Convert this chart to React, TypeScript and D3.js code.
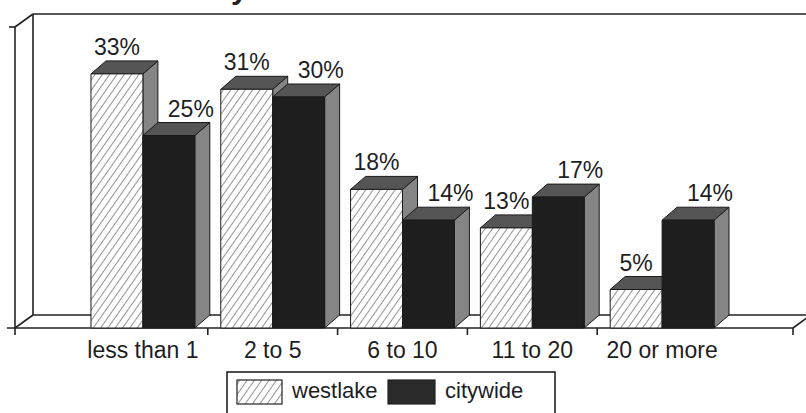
import React from 'react';
import * as d3 from 'd3';

// Years-of-residence buckets and the share of residents in each
const categories = ['less than 1', '2 to 5', '6 to 10', '11 to 20', '20 or more'];
const seriesNames = ['westlake', 'citywide'];
const westlake = [33, 31, 18, 13, 5];
const citywide = [25, 30, 14, 17, 14];
const yDomain = [0, 40];

const FONT = '"Liberation Sans", Arial, Helvetica, sans-serif';

type Bar = { x0: number; w: number; top: number; bottom: number; kind: string; value: number; cx: number };

export default function App() {
  const W = 806;
  const H = 413;

  const x = d3.scaleBand<string>().domain(categories).range([78, 727]).paddingInner(0.2).paddingOuter(0.1);
  const xs = d3.scaleBand<string>().domain(seriesNames).range([0, x.bandwidth()]);
  const y = d3.scaleLinear().domain(yDomain).range([328, 20]);

  // extrusion of each bar (right / up)
  const DX = 15;
  const DY = -13;

  // floor / wall frame
  const floorFront = y(0);
  const floorBack = floorFront - 13;
  const wallLeftFront = 15;
  const wallLeftBack = 33;
  const wallTop = 14;
  const axisTop = 27;
  const axisRight = 793;

  const bars: Bar[] = [];
  categories.forEach((c, i) => {
    const vals = [westlake[i], citywide[i]];
    seriesNames.forEach((s, j) => {
      const x0 = (x(c) as number) + (xs(s) as number);
      const w = xs.bandwidth();
      bars.push({
        x0,
        w,
        top: y(vals[j]),
        bottom: y(0),
        kind: s,
        value: vals[j],
        cx: x0 + w / 2,
      });
    });
  });

  const pts = (a: number[][]) => a.map((p) => p.join(',')).join(' ');

  const boundaryTicks = categories.slice(0, -1).map((c) => (x(c) as number) + x.bandwidth() / 2 + x.step() / 2);

  return (
    <svg width={W} height={H} style={{ position: 'absolute', left: 0, top: 0, background: '#fff' }} fontFamily={FONT}>
      <defs>
        <pattern id="hatch" width="6" height="6" patternUnits="userSpaceOnUse" patternTransform="rotate(35)">
          <rect width="6" height="6" fill="#fff" />
          <line x1="0" y1="0" x2="0" y2="6" stroke="#3a3a3a" strokeWidth="1.1" />
        </pattern>
      </defs>

      {/* partial title */}
      <text x={231} y={-1} fontSize={30} fontWeight="bold" fill="#222">y</text>

      {/* back wall top and left wall */}
      <g stroke="#222" strokeWidth={1.6} fill="none">
        <line x1={wallLeftBack} y1={wallTop} x2={W} y2={wallTop} />
        <line x1={wallLeftBack} y1={wallTop} x2={wallLeftBack} y2={floorBack} />
        <line x1={wallLeftFront} y1={axisTop} x2={wallLeftBack} y2={wallTop} />
        <line x1={wallLeftFront} y1={axisTop} x2={wallLeftFront} y2={floorFront + 7} />
        <line x1={9} y1={axisTop} x2={wallLeftFront} y2={axisTop} />
        {/* floor */}
        <line x1={wallLeftBack} y1={floorBack} x2={W} y2={floorBack} />
        <line x1={7} y1={floorFront} x2={axisRight} y2={floorFront} />
        <line x1={wallLeftFront} y1={floorFront} x2={wallLeftBack} y2={floorBack} />
        <line x1={axisRight} y1={floorFront} x2={axisRight + 18} y2={floorBack} />
        <line x1={axisRight} y1={floorFront} x2={axisRight} y2={floorFront + 7} />
        {boundaryTicks.map((t, i) => (
          <line key={i} x1={t} y1={floorFront} x2={t} y2={floorFront + 7} />
        ))}
      </g>

      {/* bars */}
      <g stroke="#1a1a1a" strokeWidth={1} strokeLinejoin="round">
        {bars.map((b, i) => {
          const x1 = b.x0 + b.w;
          return (
            <g key={i}>
              <polygon
                points={pts([[x1, b.top], [x1 + DX, b.top + DY], [x1 + DX, b.bottom + DY], [x1, b.bottom]])}
                fill="#858585"
              />
              <polygon
                points={pts([[b.x0, b.top], [b.x0 + DX, b.top + DY], [x1 + DX, b.top + DY], [x1, b.top]])}
                fill="#555"
              />
              <rect
                x={b.x0}
                y={b.top}
                width={b.w}
                height={b.bottom - b.top}
                fill={b.kind === 'westlake' ? 'url(#hatch)' : '#1e1e1e'}
              />
            </g>
          );
        })}
      </g>

      {/* value labels */}
      <g fontSize={23} fill="#1e1e1e" textAnchor="middle">
        {bars.map((b, i) => (
          <text key={i} x={b.kind === 'westlake' ? b.cx : b.cx + 22} y={b.top - 19}>
            {`${b.value}%`}
          </text>
        ))}
      </g>

      {/* category labels */}
      <g fontSize={23} fill="#1e1e1e" textAnchor="middle">
        {categories.map((c) => (
          <text key={c} x={(x(c) as number) + x.bandwidth() / 2} y={358}>
            {c}
          </text>
        ))}
      </g>

      {/* legend */}
      <g>
        <rect x={227} y={372} width={328} height={60} fill="#fff" stroke="#222" strokeWidth={1.6} />
        <rect x={237} y={380} width={45} height={24} fill="url(#hatch)" stroke="#222" strokeWidth={1.2} />
        <text x={292} y={398} fontSize={22} fill="#1e1e1e">{seriesNames[0]}</text>
        <rect x={388} y={380} width={47} height={24} fill="#2a2a2a" stroke="#222" strokeWidth={1.2} />
        <text x={445} y={398} fontSize={22} fill="#1e1e1e">{seriesNames[1]}</text>
      </g>
    </svg>
  );
}
